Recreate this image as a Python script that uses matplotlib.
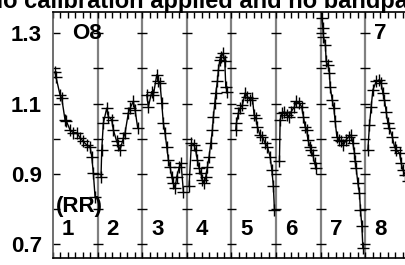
import numpy as np
import matplotlib
matplotlib.use("Agg")
import matplotlib.pyplot as plt
from matplotlib.ticker import MultipleLocator, FixedLocator, NullFormatter

plt.rcParams['font.family'] = ['Liberation Sans', 'DejaVu Sans']
plt.rcParams['font.weight'] = 'bold'

# one list pair per segment, x in segment units (segment k spans k-1 .. k)
seg1_x = [0.045, 0.067, 0.157, 0.195, 0.269, 0.30, 0.381, 0.455, 0.531, 0.605, 0.679, 0.756, 0.830, 0.868, 0.904, 0.942]
seg1_y = [1.19, 1.176, 1.125, 1.116, 1.054, 1.05, 1.025, 1.017, 1.017, 1.003, 0.992, 0.982, 0.977, 0.949, 0.902, 0.835]

seg2_x = [1.076, 1.092, 1.128, 1.204, 1.240, 1.316, 1.352, 1.428, 1.464, 1.502, 1.576, 1.614, 1.688, 1.726, 1.800, 1.839, 1.899]
seg2_y = [0.892, 0.968, 1.044, 1.087, 1.063, 1.054, 1.025, 0.992, 0.982, 0.968, 1.001, 1.016, 1.073, 1.087, 1.106, 1.082, 1.03]

seg3_x = [2.101, 2.137, 2.213, 2.25, 2.325, 2.361, 2.399, 2.437, 2.473, 2.511, 2.549, 2.585, 2.623, 2.661, 2.697, 2.735, 2.774, 2.832, 2.870, 2.922]
seg3_y = [1.125, 1.091, 1.134, 1.125, 1.182, 1.163, 1.158, 1.101, 1.044, 1.016, 0.977, 0.94, 0.92, 0.892, 0.873, 0.859, 0.892, 0.92, 0.93, 0.849]

seg4_x = [3.049, 3.101, 3.161, 3.195, 3.235, 3.274, 3.312, 3.348, 3.386, 3.424, 3.460, 3.498, 3.536, 3.572, 3.594, 3.626, 3.648, 3.684, 3.706, 3.738, 3.774, 3.812, 3.850, 3.872, 3.908]
seg4_y = [0.864, 0.987, 0.982, 0.968, 0.94, 0.916, 0.902, 0.883, 0.873, 0.892, 0.92, 0.949, 0.987, 1.025, 1.063, 1.101, 1.13, 1.163, 1.196, 1.225, 1.234, 1.244, 1.22, 1.148, 1.134]

seg5_x = [4.096, 4.11, 4.155, 4.193, 4.244, 4.305, 4.357, 4.410, 4.469, 4.507, 4.545, 4.581, 4.635, 4.693, 4.753, 4.805, 4.865, 4.904, 4.939, 4.962]
seg5_y = [1.025, 1.044, 1.073, 1.087, 1.096, 1.13, 1.12, 1.111, 1.115, 1.068, 1.058, 1.034, 1.011, 1.006, 0.987, 0.977, 0.949, 0.911, 0.864, 0.797]

seg6_x = [5.074, 5.090, 5.135, 5.186, 5.235, 5.285, 5.336, 5.410, 5.448, 5.522, 5.572, 5.612, 5.650, 5.688, 5.711, 5.762, 5.785, 5.823, 5.863, 5.897]
seg6_y = [0.935, 1.054, 1.073, 1.077, 1.068, 1.063, 1.077, 1.091, 1.106, 1.101, 1.091, 1.063, 1.034, 1.025, 0.997, 0.977, 0.968, 0.954, 0.93, 0.917]

seg7_x = [6.025, 6.047, 6.061, 6.105, 6.121, 6.159, 6.195, 6.211, 6.256, 6.294, 6.323, 6.361, 6.406, 6.457, 6.509, 6.570, 6.630, 6.682, 6.720, 6.756, 6.771, 6.794, 6.832, 6.868, 6.890, 6.922, 6.944]
seg7_y = [1.343, 1.315, 1.291, 1.267, 1.22, 1.21, 1.187, 1.148, 1.111, 1.087, 1.049, 1.006, 0.997, 0.992, 0.982, 0.997, 1.006, 1.011, 0.987, 0.959, 0.935, 0.916, 0.873, 0.845, 0.797, 0.75, 0.688]

seg8_x = [7.056, 7.092, 7.130, 7.168, 7.242, 7.316, 7.354, 7.392, 7.428, 7.466, 7.504, 7.540, 7.601, 7.653, 7.691, 7.765, 7.803, 7.841, 7.892, 7.960]
seg8_y = [0.968, 1.039, 1.091, 1.139, 1.163, 1.168, 1.158, 1.13, 1.111, 1.077, 1.044, 1.03, 1.006, 0.977, 0.968, 0.959, 0.93, 0.911, 0.897, 0.88]

segments = [(seg1_x, seg1_y), (seg2_x, seg2_y), (seg3_x, seg3_y), (seg4_x, seg4_y),
            (seg5_x, seg5_y), (seg6_x, seg6_y), (seg7_x, seg7_y), (seg8_x, seg8_y)]
seg_labels = ['1', '2', '3', '4', '5', '6', '7', '8']
separators = [1, 2, 3, 4, 5, 6, 7]
yticks_major = [0.7, 0.9, 1.1, 1.3]
yticks_all = [0.7, 0.8, 0.9, 1.0, 1.1, 1.2, 1.3]

W, H = 406, 265
fig = plt.figure(figsize=(W / 100, H / 100), dpi=100)
ax = fig.add_axes([53 / W, 7 / H, 357 / W, 246 / H])

for sx, sy in segments:
    ax.plot(sx, sy, color='black', lw=1.0, marker='+', ms=9, mew=1.0)

for s in separators:
    ax.axvline(s, color='#808080', lw=1.6, zorder=1)
    ax.hlines(yticks_all, s - 0.11, s + 0.11, color='black', lw=1.0)

ax.set_xlim(0, 8)
ax.set_ylim(0.660, 1.361)

ax.yaxis.set_major_locator(FixedLocator(yticks_major))
ax.yaxis.set_minor_locator(FixedLocator([0.8, 1.0, 1.2]))
ax.set_yticklabels(['0.7', '0.9', '1.1', '1.3'])
ax.xaxis.set_major_locator(MultipleLocator(1 / 6))
ax.xaxis.set_major_formatter(NullFormatter())
ax.tick_params(axis='y', which='both', direction='in', length=5, width=1, labelsize=16, pad=8)
ax.tick_params(axis='x', which='both', direction='in', length=4, width=1, top=True, bottom=True)

for sp in ax.spines.values():
    sp.set_linewidth(1.2)
ax.spines['left'].set_color('#555555')

for i, lab in enumerate(seg_labels):
    ax.text(i + 0.34, 0.74, lab, ha='center', va='center', fontsize=16, fontweight='bold')
ax.text(0.58, 0.806, '(RR)', ha='center', va='center', fontsize=16, fontweight='bold')
ax.text(0.76, 1.30, 'O8', ha='center', va='center', fontsize=16, fontweight='bold')
ax.text(7.33, 1.30, '7', ha='center', va='center', fontsize=16, fontweight='bold')

fig.text(-14 / W, 1 - 8 / H, 'No calibration applied and no bandpass correction',
         ha='left', va='baseline', fontsize=17, fontweight='bold')

fig.savefig('out.png', dpi=100)
